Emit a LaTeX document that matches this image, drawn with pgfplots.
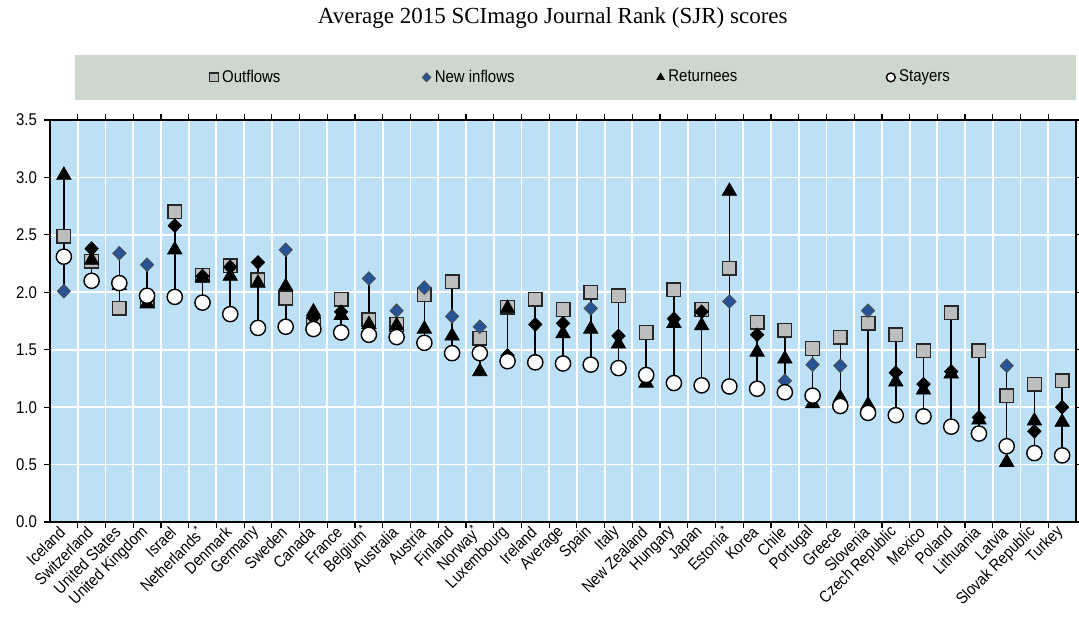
\documentclass[border=0pt]{standalone}
\usepackage{pgfplots}
\pgfplotsset{compat=1.18}
\usepackage{pgfplotstable}
\usepackage{fontspec}
\setmainfont{Liberation Sans}[FakeStretch=0.88]
\newfontfamily\titlefont{Liberation Serif}
\definecolor{bgblue}{RGB}{188,225,246}
\definecolor{diablue}{RGB}{38,84,150}
\definecolor{sqgray}{RGB}{188,190,190}
\definecolor{bandgreen}{RGB}{204,216,206}

\pgfplotstableread{
x out new c ret stay
0 2.49 2.01 1 3.02 2.31
1 2.27 2.38 0 2.28 2.10
2 1.86 2.34 1 2.06 2.08
3 1.93 2.24 1 1.90 1.97
4 2.70 2.58 0 2.37 1.96
5 2.15 2.14 0 2.13 1.91
6 2.23 2.22 0 2.14 1.81
7 2.11 2.26 0 2.08 1.69
8 1.95 2.37 1 2.05 1.70
9 1.72 1.78 0 1.83 1.68
10 1.94 1.83 0 1.80 1.65
11 1.76 2.12 1 1.72 1.63
12 1.72 1.84 1 1.71 1.61
13 1.98 2.04 1 1.68 1.56
14 2.09 1.79 1 1.62 1.47
15 1.60 1.70 1 1.31 1.47
16 1.87 1.45 0 1.86 1.40
17 1.94 1.72 0 1.40 1.39
18 1.85 1.73 0 1.64 1.38
19 2.00 1.86 1 1.68 1.37
20 1.97 1.62 0 1.55 1.34
21 1.65 1.24 0 1.21 1.28
22 2.02 1.77 0 1.73 1.21
23 1.85 1.83 0 1.71 1.19
24 2.21 1.92 1 2.88 1.18
25 1.74 1.63 0 1.48 1.16
26 1.67 1.23 1 1.42 1.13
27 1.51 1.37 1 1.03 1.10
28 1.61 1.36 1 1.08 1.01
29 1.73 1.84 1 1.02 0.95
30 1.63 1.30 0 1.22 0.93
31 1.49 1.20 0 1.15 0.92
32 1.82 1.31 0 1.29 0.83
33 1.49 0.91 0 0.89 0.77
34 1.10 1.36 1 0.52 0.66
35 1.20 0.79 0 0.88 0.60
36 1.23 1.00 0 0.87 0.58
}\data

\begin{document}
\begin{tikzpicture}
\begin{axis}[
  scale only axis, width=513pt, height=201pt,
  xmin=-0.5, xmax=36.5, ymin=0, ymax=3.5,
  clip=false,
  axis background/.style={fill=bgblue},
  axis line style={line width=0.8pt, black},
  xtick={0,...,36},
  xticklabels={Iceland, Switzerland, United States, United Kingdom, Israel, Netherlands\textsuperscript{*}, Denmark, Germany, Sweden, Canada, France, Belgium\textsuperscript{*}, Australia, Austria, Finland, Norway\textsuperscript{*}, Luxembourg, Ireland, Average, Spain, Italy, New Zealand, Hungary, Japan, Estonia\textsuperscript{*}, Korea, Chile, Portugal, Greece, Slovenia, Czech Republic, Mexico, Poland, Lithuania, Latvia, Slovak Republic, Turkey},
  ytick={0,0.5,...,3.5},
  yticklabel style={/pgf/number format/.cd, fixed, fixed zerofill, precision=1, /tikz/.cd, font=\fontsize{8.5}{10}\selectfont},
  /pgf/number format/assume math mode=true,
  ymajorgrids,
  major grid style={white, line width=0.9pt},
  minor x tick num=1,
  xminorgrids,
  minor grid style={white, line width=0.9pt},
  tick align=outside,
  major tick length=3pt, minor tick length=3pt,
  tick style={black, line width=0.6pt},
  major x tick style={draw=none},
  xticklabel style={rotate=45, anchor=east, inner sep=1pt, font=\fontsize{8.2}{9}\selectfont},
  title={Average 2015 SCImago Journal Rank (SJR) scores},
  title style={font=\titlefont\fontsize{11.5}{13}\selectfont, at={(0.49,1)}, anchor=south, yshift=36pt},
  legend columns=4,
  legend style={draw=none, fill=none, inner sep=0pt, anchor=west, at={(0.155,1.106)},
    font=\fontsize{8.5}{10}\selectfont},
  legend image code/.code={\draw[#1, mark size=2.2pt] plot coordinates {(0cm,0cm)};},
]
\coordinate (ll) at (axis description cs:0,0);
\coordinate (ur) at (axis description cs:1,1);
\fill[bandgreen] (axis description cs:0.024,1.05) rectangle (axis description cs:1,1.162);

\addplot[forget plot, only marks, mark=none, black,
  error bars/.cd, y dir=plus, y explicit, error mark=none,
  error bar style={black, line width=0.8pt, solid}]
  table[x=x,
    y expr={min(\thisrow{out},\thisrow{new},\thisrow{ret},\thisrow{stay})},
    y error expr={max(\thisrow{out},\thisrow{new},\thisrow{ret},\thisrow{stay})-min(\thisrow{out},\thisrow{new},\thisrow{ret},\thisrow{stay})}]
  {\data};

\addplot[only marks, mark=square*, mark size=3.4pt,
  mark options={fill=sqgray, draw=black!85, line width=0.7pt}]
  table[x=x, y=out] {\data};
\addlegendentry{\makebox[98pt][l]{Outflows}}

\addplot[only marks, mark=diamond*, mark size=3.4pt,
  mark options={fill=diablue, draw=black!70, line width=0.4pt, xscale=1.3},
  restrict expr to domain={\thisrow{c}}{0.5:1.5}]
  table[x=x, y=new] {\data};
\addlegendentry{\makebox[109pt][l]{New inflows}}

\addplot[forget plot, only marks, mark=diamond*, mark size=3.4pt,
  mark options={fill=black, draw=black, line width=0.4pt, xscale=1.3},
  restrict expr to domain={\thisrow{c}}{-0.5:0.5}]
  table[x=x, y=new] {\data};

\addplot[only marks, mark=triangle*, mark size=4.2pt,
  mark options={fill=black, draw=black, line width=0.3pt}]
  table[x=x, y=ret] {\data};
\addlegendentry{\makebox[107pt][l]{Returnees}}

\addplot[only marks, mark=*, mark size=3.8pt,
  mark options={fill=white, draw=black, line width=0.7pt}]
  table[x=x, y=stay] {\data};
\addlegendentry{Stayers}
\end{axis}
\pgfresetboundingbox
\path ([xshift=-25pt, yshift=-55pt]ll) rectangle ([xshift=1.5pt, yshift=60pt]ur);
\end{tikzpicture}
\end{document}
